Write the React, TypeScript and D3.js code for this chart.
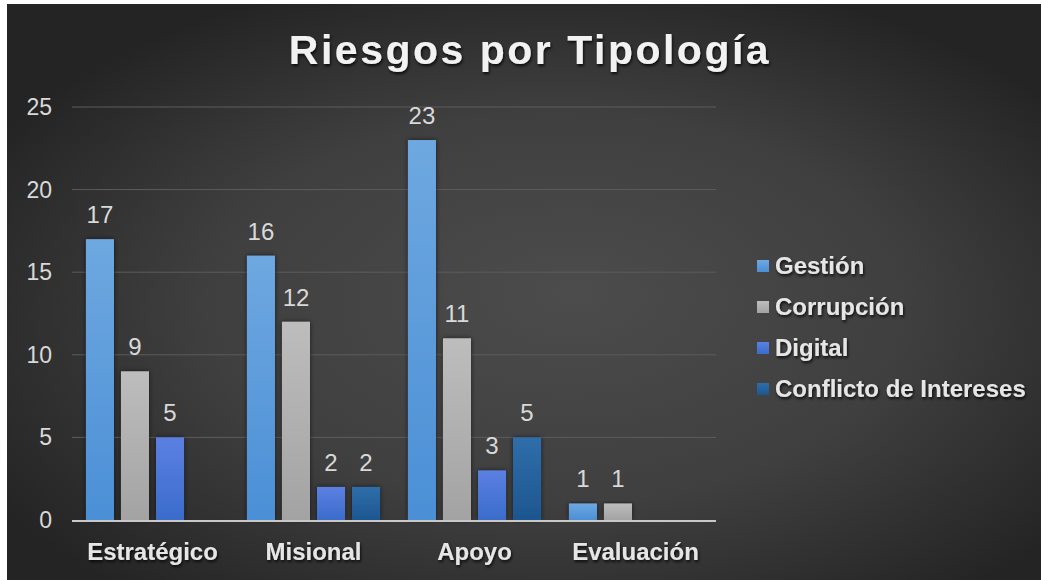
import React from "react";
import * as d3 from "d3";

const categories = ["Estratégico", "Misional", "Apoyo", "Evaluación"];
const seriesNames = ["Gestión", "Corrupción", "Digital", "Conflicto de Intereses"];
const gestion = [17, 16, 23, 1];
const corrupcion = [9, 12, 11, 1];
const digital = [5, 2, 3, 0];
const conflicto = [0, 2, 5, 0];
const yTicks = [0, 5, 10, 15, 20, 25];

const values = [gestion, corrupcion, digital, conflicto];
// gradient top / bottom per series
const colors = [
  ["#6ea8e0", "#4b8fd6"],
  ["#bdbdbd", "#a3a3a3"],
  ["#5b80e2", "#3b6ccb"],
  ["#2f6eaa", "#1d5690"],
];

const font = "Liberation Sans, Arial, sans-serif";

export default function App() {
  const width = 1042;
  const height = 580;
  const left = 72;
  const right = 716;
  const top = 107;
  const bottom = 520;

  const x0 = d3.scaleBand().domain(categories).range([left, right]).paddingInner(0.13).paddingOuter(0.065);
  const x1 = d3
    .scaleBand()
    .domain(seriesNames)
    .range([0, x0.bandwidth()])
    .paddingInner(0.2)
    .paddingOuter(0.1);
  const y = d3.scaleLinear().domain([0, 25]).range([bottom, top]);

  return (
    <div style={{ position: "fixed", left: 0, top: 0, width, height, overflow: "hidden" }}>
      <svg width={width} height={height} style={{ display: "block" }}>
        <defs>
          <radialGradient id="bg" cx="52%" cy="55%" r="62%" fx="55%" fy="50%">
            <stop offset="0%" stopColor="#4c4c4c" />
            <stop offset="55%" stopColor="#3f3f3f" />
            <stop offset="100%" stopColor="#242424" />
          </radialGradient>
          {colors.map((c, i) => (
            <linearGradient key={i} id={"g" + i} x1="0" y1="0" x2="0" y2="1">
              <stop offset="0%" stopColor={c[0]} />
              <stop offset="100%" stopColor={c[1]} />
            </linearGradient>
          ))}
          <filter id="sh" x="-30%" y="-10%" width="160%" height="120%">
            <feDropShadow dx="0" dy="0" stdDeviation="2.5" floodColor="#000" floodOpacity="0.6" />
          </filter>
          <filter id="tsh" x="-10%" y="-20%" width="120%" height="150%">
            <feDropShadow dx="1" dy="2" stdDeviation="1.5" floodColor="#000" floodOpacity="0.8" />
          </filter>
        </defs>
        <rect x={0} y={0} width={width} height={height} fill="#ffffff" />
        <rect x={7} y={4} width={1034} height={576} fill="url(#bg)" />

        <text
          x={530}
          y={64}
          textAnchor="middle"
          fill="#f2f2f2"
          fontFamily={font}
          fontWeight="bold"
          fontSize={41}
          letterSpacing={2.5}
          filter="url(#tsh)"
        >
          Riesgos por Tipología
        </text>

        {yTicks.map((t) => (
          <g key={t}>
            {t > 0 && <line x1={left} x2={right} y1={y(t)} y2={y(t)} stroke="#5c5c5c" strokeWidth={1} />}
            <text
              x={52}
              y={y(t)}
              dy="0.35em"
              textAnchor="end"
              fill="#d9d9d9"
              fontFamily={font}
              fontSize={23}
            >
              {t}
            </text>
          </g>
        ))}

        {categories.map((cat, ci) => (
          <g key={cat} transform={`translate(${x0(cat)},0)`}>
            {seriesNames.map((s, si) => {
              const v = values[si][ci];
              if (!v) return null;
              return (
                <g key={s}>
                  <rect
                    x={x1(s)}
                    y={y(v)}
                    width={x1.bandwidth()}
                    height={y(0) - y(v)}
                    fill={`url(#g${si})`}
                    filter="url(#sh)"
                  />
                  <text
                    x={(x1(s) as number) + x1.bandwidth() / 2}
                    y={y(v) - 16}
                    textAnchor="middle"
                    fill="#d9d9d9"
                    fontFamily={font}
                    fontSize={24}
                  >
                    {v}
                  </text>
                </g>
              );
            })}
            <text
              x={x0.bandwidth() / 2}
              y={560}
              textAnchor="middle"
              fill="#e6e6e6"
              fontFamily={font}
              fontWeight="bold"
              fontSize={24}
              filter="url(#tsh)"
            >
              {cat}
            </text>
          </g>
        ))}

        <line x1={left} x2={right} y1={bottom + 1} y2={bottom + 1} stroke="#c8c8c8" strokeWidth={2} />

        {seriesNames.map((s, i) => (
          <g key={s} transform={`translate(757,${266 + i * 41})`}>
            <rect x={0} y={-6} width={12} height={12} fill={`url(#g${i})`} />
            <text
              x={18}
              y={0}
              dy="0.35em"
              fill="#e6e6e6"
              fontFamily={font}
              fontWeight="bold"
              fontSize={24}
              filter="url(#tsh)"
            >
              {s}
            </text>
          </g>
        ))}
      </svg>
    </div>
  );
}
